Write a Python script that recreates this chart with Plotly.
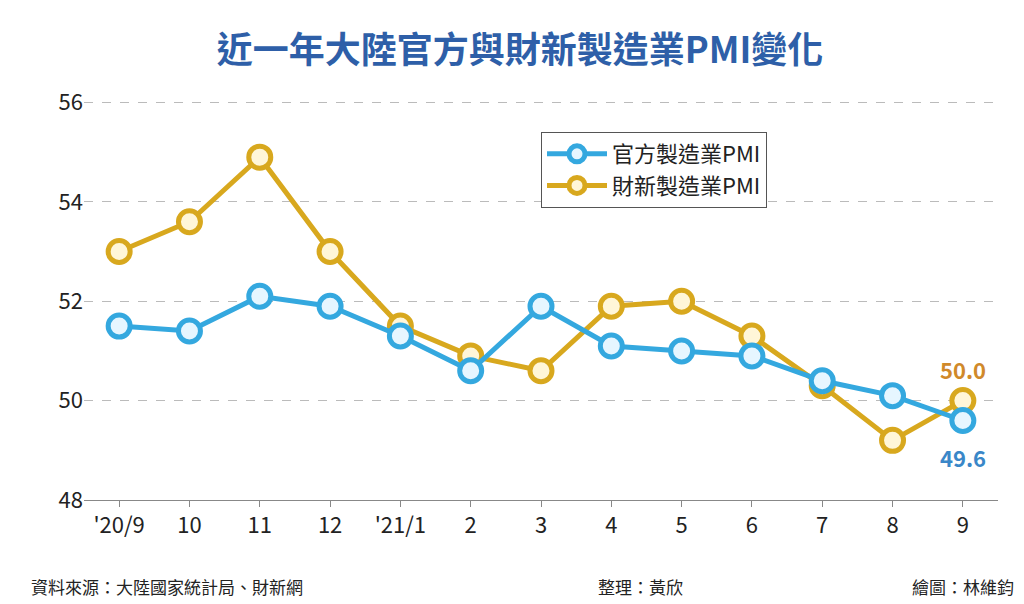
import plotly.graph_objects as go

months = ["'20/9","10","11","12","'21/1","2","3","4","5","6","7","8","9"]
official = [51.5,51.4,52.1,51.9,51.3,50.6,51.9,51.1,51.0,50.9,50.4,50.1,49.6]
caixin = [53.0,53.6,54.9,53.0,51.5,50.9,50.6,51.9,52.0,51.3,50.3,49.2,50.0]
yticks = [48,50,52,54,56]

blue = "#34A8DF"
gold = "#D8A81E"
fig = go.Figure()
fig.add_trace(go.Scatter(x=months, y=caixin, name="財新製造業PMI", mode="lines+markers",
    line=dict(color=gold, width=5), marker=dict(size=22, color="#FFF6D8", line=dict(color=gold, width=5))))
fig.add_trace(go.Scatter(x=months, y=official, name="官方製造業PMI", mode="lines+markers",
    line=dict(color=blue, width=5), marker=dict(size=22, color="#E6F6FF", line=dict(color=blue, width=5))))
last = len(months) - 1
fig.add_annotation(x=last, y=caixin[-1], text="<b>50.0</b>", showarrow=False, yshift=32,
    font=dict(size=22, color="#D0892A"))
fig.add_annotation(x=last, y=official[-1], text="<b>49.6</b>", showarrow=False, yshift=-36,
    font=dict(size=22, color="#3A87C8"))
fig.update_layout(
    width=1024, height=604, paper_bgcolor="white", plot_bgcolor="white",
    margin=dict(l=76, r=34, t=92, b=112),
    font=dict(family="Noto Sans CJK TC", size=20, color="#222"),
    title=dict(text="<b>近一年大陸官方與財新製造業PMI變化</b>", x=0.5, xanchor="center", y=0.95,
               font=dict(size=36, color="#2E5FA8")),
    showlegend=True,
    legend=dict(x=0.5, y=0.92, xanchor="left", yanchor="top", traceorder="reversed",
                bordercolor="#555", borderwidth=1, bgcolor="white", font=dict(size=22),
                itemwidth=60),
    xaxis=dict(showgrid=False, showline=True, linecolor="#888", ticks="outside", ticklen=6,
               tickcolor="#888", range=[-0.5,12.5], tickfont=dict(size=22, color="#222")),
    yaxis=dict(range=[48,56.05], tickvals=yticks, showgrid=True, gridcolor="#bbb", griddash="dash",
               zeroline=False, showline=False, tickfont=dict(size=22, color="#222")),
)
fig.add_annotation(text="資料來源：大陸國家統計局、財新網", xref="paper", yref="paper", x=-0.06, y=-0.215,
    xanchor="left", yanchor="middle", showarrow=False, font=dict(size=17))
fig.add_annotation(text="整理：黃欣", xref="paper", yref="paper", x=0.56, y=-0.215,
    xanchor="left", yanchor="middle", showarrow=False, font=dict(size=17))
fig.add_annotation(text="繪圖：林維鈞", xref="paper", yref="paper", x=1.02, y=-0.215,
    xanchor="right", yanchor="middle", showarrow=False, font=dict(size=17))
fig.write_html("out.html")
